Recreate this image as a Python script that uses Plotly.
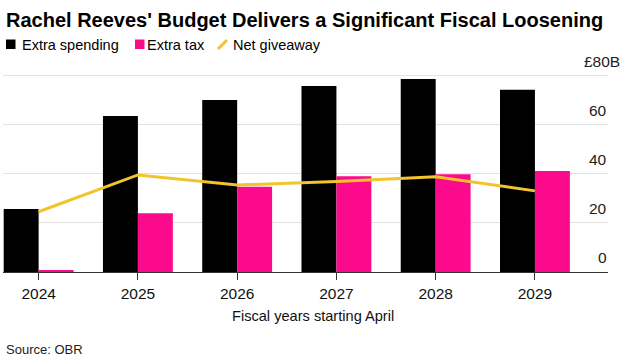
import plotly.graph_objects as go

years = ["2024", "2025", "2026", "2027", "2028", "2029"]
extra_spending = [25.7, 63.7, 70.2, 75.9, 78.8, 74.4]
extra_tax = [0.8, 24.0, 34.8, 39.1, 39.9, 41.2]
net_giveaway = [24.6, 39.6, 35.5, 36.9, 38.9, 33.1]
y_ticks = [0, 20, 40, 60, 80]
y_tick_text = ["0", "20", "40", "60", "£80B"]

BLACK = "#000000"
PINK = "#fc0a8c"
GOLD = "#f2c42c"
FONT = "Liberation Sans, Arial, sans-serif"

W, H = 625, 362
L, R, T, B = 3, 17, 62, 90
PW = W - L - R
PH = H - T - B


def px(x):
    return (x - L) / PW


def py(y):
    return (H - B - y) / PH


fig = go.Figure()
fig.add_trace(go.Bar(x=years, y=extra_spending, name="Extra spending",
                     marker=dict(color=BLACK, line=dict(width=0))))
fig.add_trace(go.Bar(x=years, y=extra_tax, name="Extra tax",
                     marker=dict(color=PINK, line=dict(width=0))))
fig.add_trace(go.Scatter(x=years, y=net_giveaway, name="Net giveaway", mode="lines",
                         line=dict(color=GOLD, width=3)))

shapes = []
annotations = []

# white gap between gridlines and label segments
shapes.append(dict(type="rect", xref="paper", yref="y", x0=px(578), x1=px(585),
                   y0=0.6, y1=86, fillcolor="white", line=dict(width=0), layer="between"))

# y tick labels (above gridlines, right side)
for v, t in zip(y_ticks, y_tick_text):
    right = 622 if t.startswith("£") else 609
    annotations.append(dict(xref="paper", yref="y", x=px(right), y=v, text=t,
                            xanchor="right", yanchor="bottom", yshift=4, showarrow=False,
                            font=dict(family=FONT, size=15.5, color="#222")))

# title
annotations.append(dict(xref="paper", yref="paper", x=px(4), y=py(19.5),
                        text="<b>Rachel Reeves' Budget Delivers a Significant Fiscal Loosening</b>",
                        xanchor="left", yanchor="middle", showarrow=False,
                        font=dict(family=FONT, size=20, color="#000")))

# legend
shapes.append(dict(type="rect", xref="paper", yref="paper", x0=px(6), x1=px(15.5), y0=py(49), y1=py(39.5),
                   fillcolor=BLACK, line=dict(width=0)))
annotations.append(dict(xref="paper", yref="paper", x=px(20), y=py(44.5), text="Extra spending",
                        xanchor="left", yanchor="middle", showarrow=False,
                        font=dict(family=FONT, size=14.5, color="#000")))
shapes.append(dict(type="rect", xref="paper", yref="paper", x0=px(135), x1=px(144.5), y0=py(49), y1=py(39.5),
                   fillcolor=PINK, line=dict(width=0)))
annotations.append(dict(xref="paper", yref="paper", x=px(145), y=py(44.5), text="Extra tax",
                        xanchor="left", yanchor="middle", showarrow=False,
                        font=dict(family=FONT, size=14.5, color="#000")))
shapes.append(dict(type="line", xref="paper", yref="paper", x0=px(218), x1=px(227), y0=py(49), y1=py(40),
                   line=dict(color=GOLD, width=3)))
annotations.append(dict(xref="paper", yref="paper", x=px(231), y=py(44.5), text="Net giveaway",
                        xanchor="left", yanchor="middle", showarrow=False,
                        font=dict(family=FONT, size=14.5, color="#000")))

# x axis title
annotations.append(dict(xref="paper", yref="paper", x=px(313), y=py(316), text="Fiscal years starting April",
                        xanchor="center", yanchor="middle", showarrow=False,
                        font=dict(family=FONT, size=14.6, color="#111")))
# source
annotations.append(dict(xref="paper", yref="paper", x=px(4), y=py(349), text="Source: OBR",
                        xanchor="left", yanchor="middle", showarrow=False,
                        font=dict(family=FONT, size=13, color="#222")))

fig.update_layout(
    width=W, height=H, autosize=False,
    margin=dict(l=L, r=R, t=T, b=B, pad=0),
    plot_bgcolor="white", paper_bgcolor="white",
    barmode="group", bargap=0.296, bargroupgap=0,
    showlegend=False, hovermode=False,
    shapes=shapes, annotations=annotations,
    font=dict(family=FONT, color="#222"),
)
fig.update_xaxes(
    type="category", range=[-0.359, 5.736],
    showline=True, linecolor="#333", linewidth=1,
    ticks="outside", ticklen=7, tickcolor="#333", tickwidth=1,
    tickfont=dict(family=FONT, size=15.5, color="#111"),
    showgrid=False, zeroline=False,
)
fig.update_yaxes(
    range=[0, 85.7], tickvals=y_ticks, showticklabels=False,
    showgrid=True, gridcolor="#e3e3e3", gridwidth=1, zeroline=False,
    side="right",
)

fig.write_html(
    "out.html",
    config={"displayModeBar": False, "staticPlot": True},
    post_script="document.body.style.margin='0';document.body.style.overflow='hidden';",
)
